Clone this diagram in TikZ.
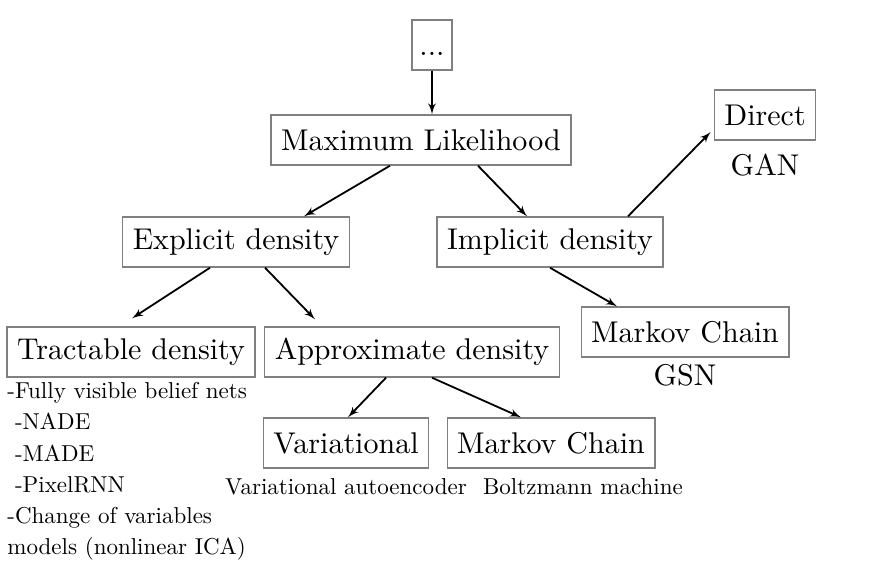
\documentclass[tikz,border=0pt]{standalone}
\usepackage{fontspec}
\setmainfont{lmroman10-regular.otf}
\usepackage{tikz}
\usetikzlibrary{shapes,arrows}
\usetikzlibrary{calc}
\tikzstyle{modblock} = [rectangle, draw=gray, line width=0.7pt, inner xsep=5pt,
    minimum height=25pt, font=\fontsize{15}{18}\selectfont]
\tikzstyle{note} = [font=\fontsize{15}{18}\selectfont, inner sep=0pt]
\tikzstyle{smallnote} = [font=\fontsize{11.5}{15.6}\selectfont, inner sep=0pt]
\tikzstyle{line} = [draw, line width=0.9pt, -latex']

\begin{document}
\begin{tikzpicture}[x=0.5pt, y=-0.5pt]
    \useasboundingbox (0,0) rectangle (886,568);
    \node [modblock, minimum width=20pt, inner xsep=2pt] (dots) at (432,45) {\vphantom{A}...};
    \node [modblock] (ml) at (421,140) {Maximum Likelihood};
    \node [modblock] (direct) at (765,115) {Direct};
    \node [modblock] (explicit) at (236,242) {Explicit density};
    \node [modblock] (implicit) at (550,242) {Implicit density};
    \node [modblock] (gsnchain) at (685,332) {Markov Chain};
    \node [modblock] (tractable) at (131,352) {Tractable density};
    \node [modblock] (approx) at (412,352) {Approximate density};
    \node [modblock] (variational) at (346,443) {Variational};
    \node [modblock] (boltzchain) at (551,443) {Markov Chain};
    % Labels under the boxes
    \node [note] (gan) at (765,165) {GAN};
    \node [note] (gsn) at (685,375) {GSN};
    \node [smallnote] (vae) at (346,487) {Variational autoencoder};
    \node [smallnote] (boltz) at (583,487) {Boltzmann machine};
    \node [smallnote, align=left, anchor=north west] (fvbn) at (7,382) {-Fully visible belief nets\\
	\ -NADE\\ \ -MADE\\ \ -PixelRNN\\ -Change of variables\\ models (nonlinear ICA)};
    % Draw edges
    \path[line] (dots.south) -- (dots.south |- ml.north);
    \path[line] ([xshift=-15.5pt]ml.south) -- ([xshift=34pt]explicit.north);
    \path[line] ([xshift=28.5pt]ml.south) -- ([xshift=-11.5pt]implicit.north);
    \path[line] ([xshift=39pt]implicit.north) -- ([xshift=-1.5pt,yshift=-8.5pt]direct.west);
    \path[line] (implicit.south) -- ([xshift=-34pt]gsnchain.north);
    \path[line] ([xshift=-13pt]explicit.south) -- ([xshift=0.5pt,yshift=4pt]tractable.north);
    \path[line] ([xshift=14.5pt]explicit.south) -- ([xshift=-48.5pt,yshift=3.5pt]approx.north);
    \path[line] ([xshift=-13pt]approx.south) -- ([xshift=1pt]variational.north);
    \path[line] ([xshift=10pt]approx.south) -- ([xshift=-15pt]boltzchain.north);
\end{tikzpicture}
\end{document}
